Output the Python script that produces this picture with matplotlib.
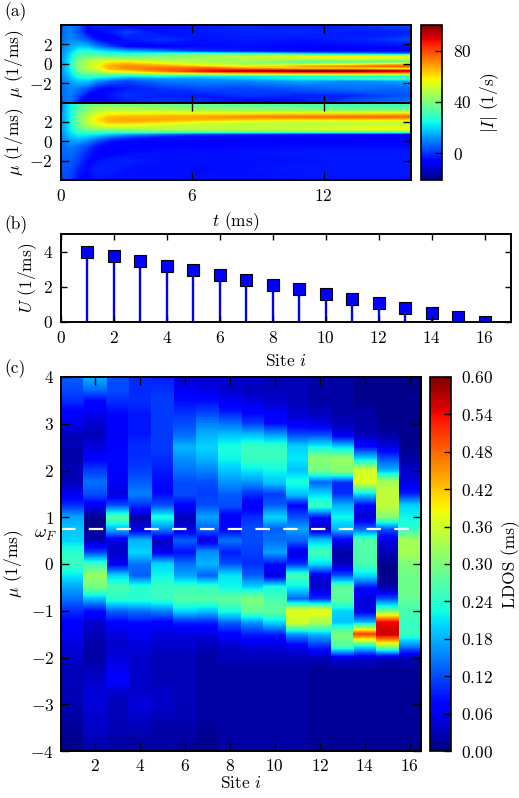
import numpy as np
import matplotlib
matplotlib.use("Agg")
import matplotlib.pyplot as plt
from matplotlib.cm import ScalarMappable
from matplotlib.colors import Normalize

plt.rcParams["font.family"] = "serif"
plt.rcParams["font.serif"] = ["cmr10", "DejaVu Serif"]
plt.rcParams["mathtext.fontset"] = "cm"
plt.rcParams["axes.formatter.use_mathtext"] = True
plt.rcParams["font.size"] = 12.5

W, H = 519, 798

# Panel (a): current |I| against time and mu
t_a = [0, 0.4, 0.8, 1.2, 1.6, 2.2, 3, 4.5, 6.5, 8.5, 11, 13.5, 16]

mu_top = [4, 3.25, 2.5, 1.75, 1.25, 1, 0.75, 0.5, 0.25, 0, -0.25, -0.5, -0.75,
          -1, -1.25, -1.5, -1.75, -2.5, -3.25, -4]
I_top = [
    [6, 6, 7, 8, 9, 10, 10, 11, 11, 11, 11, 11, 10, 10, 9, 8, 8, 7, 6, 6],
    [10, 9, 10, 14, 17, 19, 20, 21, 22, 22, 22, 21, 20, 19, 17, 15, 13, 10, 9, 9],
    [6, 3, 8, 18, 26, 30, 33, 36, 39, 41, 41, 40, 36, 31, 27, 22, 18, 8, 2, -5],
    [-4, -6, 3, 16, 28, 32, 36, 41, 46, 48, 48, 46, 42, 35, 30, 24, 18, 4, -6, -9],
    [0, -9, -4, 10, 24, 31, 37, 44, 50, 54, 54, 51, 45, 37, 28, 20, 12, -3, -8, -5],
    [-2, -4, -10, 3, 20, 28, 36, 45, 54, 62, 66, 64, 54, 40, 26, 16, 6, -6, -4, -6],
    [-6, 2, -4, -6, 16, 26, 34, 44, 55, 65, 71, 70, 58, 40, 22, 10, 2, -3, 0, -3],
    [-4, -5, 0, -8, 10, 30, 38, 44, 50, 58, 68, 76, 70, 48, 25, 12, 8, 0, -2, 0],
    [-2, -3, -4, -5, 0, 36, 42, 46, 46, 50, 60, 78, 86, 52, 22, 12, 10, 3, -3, -1],
    [0, -2, -3, -5, -3, 30, 50, 47, 44, 44, 52, 70, 92, 58, 22, 18, 10, 2, 0, -8],
    [-3, -1, -4, -6, -5, 20, 57, 45, 30, 40, 66, 60, 97, 60, 24, 25, 14, 5, -2, -5],
    [0, -3, -2, -6, -6, 15, 58, 52, 28, 45, 72, 57, 96, 62, 22, 30, 10, 8, -1, 4],
    [3, -2, 2, -5, -7, 10, 56, 52, 22, 58, 78, 52, 88, 62, 20, 32, 14, 6, 4, 8],
]

mu_bot = [4, 3.5, 3.25, 3, 2.75, 2.5, 2.25, 2, 1.75, 1.5, 1.25, 1, 0.75, 0.5, 0,
          -0.5, -1.25, -2, -3, -4]
I_bot = [
    [10, 10, 10, 10, 10, 10, 11, 11, 11, 11, 11, 10, 10, 9, 8, 7, 6, 5, 4, 3],
    [22, 22, 22, 22, 22, 22, 22, 22, 22, 22, 21, 20, 18, 16, 12, 9, 7, 5, 3, 2],
    [30, 32, 33, 35, 37, 38, 38, 38, 37, 35, 32, 28, 24, 20, 13, 6, 3, 1, -3, -6],
    [36, 38, 40, 43, 46, 47, 49, 49, 47, 43, 38, 30, 24, 18, 9, 2, -2, -5, -5, -6],
    [38, 42, 46, 49, 53, 56, 58, 57, 53, 47, 40, 30, 22, 14, 3, -4, -6, -5, -2, -4],
    [38, 42, 48, 53, 58, 63, 66, 64, 57, 50, 40, 30, 18, 8, -4, -6, -7, -3, -2, -5],
    [38, 42, 48, 53, 59, 65, 68, 65, 57, 50, 42, 32, 14, 2, -6, -7, -5, -2, -4, -4],
    [37, 41, 46, 52, 60, 66, 67, 61, 54, 50, 46, 34, 8, -3, -6, -6, -4, -4, -4, -4],
    [35, 38, 44, 50, 60, 68, 65, 55, 50, 50, 48, 34, 2, -5, -6, -6, -4, -4, -5, -4],
    [34, 37, 42, 50, 62, 71, 62, 52, 48, 50, 50, 34, 0, -6, -6, -5, -4, -4, -4, -4],
    [32, 35, 40, 50, 64, 73, 60, 50, 48, 50, 52, 34, -2, -7, -6, -5, -3, -4, -3, -4],
    [30, 33, 38, 48, 64, 74, 60, 50, 50, 52, 55, 34, -4, -7, -6, -5, -3, -3, -3, -4],
    [28, 32, 38, 48, 66, 75, 60, 50, 48, 54, 58, 34, -6, -8, -6, -5, -3, -3, -3, -4],
]

# Panel (b): U per site
sites = list(range(1, 17))
U = [4.0, 3.73, 3.47, 3.2, 2.93, 2.67, 2.4, 2.13, 1.87, 1.6, 1.33, 1.07, 0.8, 0.53, 0.27, 0.0]

# Panel (c): LDOS, one list per site, mu going from 4 down to -4 in steps of 0.25
mu_c = [4, 3.75, 3.5, 3.25, 3, 2.75, 2.5, 2.25, 2, 1.75, 1.5, 1.25, 1, 0.75, 0.5, 0.25, 0,
        -0.25, -0.5, -0.75, -1, -1.25, -1.5, -1.75, -2, -2.25, -2.5, -2.75, -3, -3.25, -3.5, -3.75, -4]
ldos = [
    [.13, .12, .10, .07, .06, .03, .025, .02, .03, .03, .06, .10, .17, .19, .20, .24, .25,
     .21, .17, .14, .10, .07, .06, .05, .04, .03, .03, .03, .025, .02, .015, .01, .01],
    [.18, .14, .08, .06, .04, .03, .05, .07, .11, .14, .12, .06, .01, .01, .03, .11, .25,
     .32, .29, .18, .08, .04, .03, .02, .02, .03, .04, .05, .05, .04, .04, .03, .02],
    [.12, .12, .10, .08, .07, .06, .07, .08, .08, .06, .05, .12, .27, .18, .05, .04, .06,
     .20, .26, .24, .13, .07, .05, .04, .05, .06, .07, .04, .03, .03, .03, .02, .02],
    [.10, .10, .10, .09, .09, .09, .10, .10, .11, .13, .15, .10, .02, .05, .18, .20, .14,
     .13, .24, .24, .14, .08, .06, .05, .04, .04, .04, .04, .05, .04, .03, .02, .02],
    [.09, .10, .11, .11, .11, .11, .11, .10, .09, .08, .08, .12, .23, .15, .03, .06, .20,
     .22, .25, .25, .15, .07, .05, .04, .03, .03, .03, .04, .04, .03, .02, .02, .02],
    [.04, .06, .08, .10, .12, .14, .18, .16, .14, .12, .12, .07, .03, .05, .13, .08, .14,
     .17, .25, .27, .20, .09, .05, .04, .03, .03, .03, .03, .03, .03, .02, .02, .01],
    [.05, .05, .08, .11, .15, .18, .20, .18, .15, .12, .11, .12, .17, .13, .05, .16, .18,
     .13, .25, .27, .19, .09, .05, .03, .02, .02, .02, .02, .02, .02, .015, .01, .01],
    [.05, .04, .06, .09, .14, .19, .23, .22, .19, .16, .13, .12, .06, .07, .14, .09, .12,
     .21, .22, .28, .23, .13, .07, .04, .03, .02, .02, .02, .02, .02, .02, .02, .02],
    [.04, .03, .05, .07, .11, .19, .25, .25, .21, .16, .10, .06, .10, .12, .12, .11, .10,
     .13, .20, .30, .28, .16, .09, .05, .03, .02, .02, .02, .02, .02, .02, .02, .02],
    [.03, .03, .04, .06, .08, .17, .25, .25, .22, .19, .11, .13, .20, .13, .14, .17, .08,
     .05, .23, .26, .28, .20, .09, .05, .03, .02, .02, .02, .02, .02, .02, .02, .02],
    [.03, .03, .03, .04, .06, .12, .20, .21, .19, .23, .19, .07, .12, .17, .13, .05, .10,
     .26, .21, .13, .37, .36, .16, .06, .03, .02, .02, .02, .02, .02, .02, .02, .02],
    [.02, .02, .02, .03, .05, .12, .22, .31, .29, .13, .20, .25, .08, .03, .19, .26, .20,
     .05, .04, .10, .38, .33, .18, .10, .03, .015, .015, .015, .015, .015, .015, .015, .015],
    [.02, .02, .02, .02, .03, .06, .20, .32, .31, .10, .10, .18, .22, .18, .06, .02, .03,
     .12, .28, .28, .20, .19, .30, .27, .05, .015, .015, .015, .015, .015, .015, .015, .015],
    [.01, .01, .01, .02, .02, .03, .08, .20, .36, .37, .20, .07, .04, .13, .27, .27, .26,
     .20, .08, .05, .05, .18, .50, .22, .04, .015, .015, .015, .015, .015, .015, .015, .015],
    [.01, .01, .01, .01, .01, .02, .05, .12, .18, .33, .35, .35, .30, .12, .05, .03, .01,
     .01, .02, .12, .28, .54, .56, .32, .03, .015, .015, .015, .015, .015, .015, .015, .015],
    [.01, .01, .01, .01, .01, .01, .01, .02, .04, .05, .09, .20, .22, .24, .33, .33, .30,
     .29, .29, .28, .26, .25, .25, .15, .03, .015, .015, .015, .015, .015, .015, .015, .015],
]
fermi = 0.75


def add_axes(x0, y0, x1, y1):
    # pixel box measured from the top left of the picture
    return fig.add_axes([x0 / W, 1 - y1 / H, (x1 - x0) / W, (y1 - y0) / H])


def style(ax, lw=1.4, length=5.5, pad=6):
    for s in ax.spines.values():
        s.set_linewidth(lw)
    ax.tick_params(direction="in", top=True, right=True, length=length, width=1.0, pad=pad)
    ax.set_axisbelow(False)


fig = plt.figure(figsize=(W / 100, H / 100), dpi=100)

# contourf with many levels keeps the colours of jet between the read values
norm_a = Normalize(-21, 100)
levels_a = np.linspace(-21, 100, 243)
norm_c = Normalize(0, 0.6)
levels_c = np.linspace(0, 0.6, 241)

# (a)
ax1 = add_axes(61, 25, 411, 102.5)
ax2 = add_axes(61, 102.5, 411, 180)
for ax, mu, vals in [(ax1, mu_top, I_top), (ax2, mu_bot, I_bot)]:
    z = np.array(vals).T
    ax.contourf(t_a, mu, z, levels=levels_a, cmap="jet", norm=norm_a, extend="both")
    ax.set_xlim(0, 16)
    ax.set_ylim(-4, 4)
    ax.set_yticks([-2, 0, 2])
    ax.set_yticklabels(["$-2$", "$0$", "$2$"])
    ax.set_xticks([0, 6, 12])
    style(ax)
    ax.set_ylabel(r"$\mu$ (1/ms)")
    ax.yaxis.set_label_coords(-0.1, 0.5)
ax1.tick_params(labelbottom=False)
ax2.set_xticklabels(["$0$", "$6$", "$12$"])
ax2.set_xlabel(r"$t$ (ms)", labelpad=4)

cax1 = add_axes(421, 25, 442, 180)
cb1 = fig.colorbar(ScalarMappable(norm_a, "jet"), cax=cax1)
cb1.set_ticks([0, 40, 80])
cb1.set_ticklabels(["$0$", "$40$", "$80$"])
cb1.ax.tick_params(direction="in", length=5, width=1.0, pad=8)
cb1.outline.set_linewidth(1.2)
cb1.set_label(r"$|I|$ (1/s)", labelpad=5)

# (b)
ax3 = add_axes(61, 234, 511, 322)
ax3.vlines(sites, 0, U, color="#0000ff", lw=1.7, zorder=2)
ax3.plot(sites, U, "s", color="#0000ff", mec="black", mew=0.8, ms=9, zorder=2)
ax3.set_xlim(0, 17)
ax3.set_ylim(0, 5)
ax3.set_xticks(range(0, 17, 2))
ax3.set_xticklabels([f"${v}$" for v in range(0, 17, 2)])
ax3.set_yticks([0, 2, 4])
ax3.set_yticklabels(["$0$", "$2$", "$4$"])
style(ax3, length=4)
ax3.set_xlabel(r"Site $i$", labelpad=5)
ax3.set_ylabel(r"$U$ (1/ms)")
ax3.yaxis.set_label_coords(-0.049, 0.5)

# (c)
ax4 = add_axes(61, 377, 421, 751)
edges = np.arange(0.5, 17.0)
x_c = np.repeat(edges, 2)[1:-1]
x_c[1::2] += 0.001
z_c = np.repeat(np.array(ldos).T, 2, axis=1)
ax4.contourf(x_c, mu_c, z_c, levels=levels_c, cmap="jet", norm=norm_c, extend="both")
ax4.axhline(fermi, color="white", lw=1.6, dashes=(6.5, 6.0))
ax4.set_xlim(0.5, 16.5)
ax4.set_ylim(-4, 4)
ax4.set_xticks(range(2, 17, 2))
ax4.set_xticklabels([f"${v}$" for v in range(2, 17, 2)])
ax4.set_yticks(range(-4, 5))
ax4.set_yticklabels([f"${v}$" for v in range(-4, 5)])
style(ax4, pad=5)
ax4.set_xlabel(r"Site $i$", labelpad=1)
ax4.set_ylabel(r"$\mu$ (1/ms)")
ax4.yaxis.set_label_coords(-0.1, 0.5)
ax4.text(-0.012, fermi - 0.14, r"$\omega_F$", transform=ax4.get_yaxis_transform(),
         ha="right", va="center", fontsize=13)

cax2 = add_axes(430, 377, 451, 751)
cb2 = fig.colorbar(ScalarMappable(norm_c, "jet"), cax=cax2)
cb_ticks = [0.0, 0.06, 0.12, 0.18, 0.24, 0.30, 0.36, 0.42, 0.48, 0.54, 0.60]
cb2.set_ticks(cb_ticks)
cb2.set_ticklabels([f"${v:.2f}$" for v in cb_ticks])
cb2.ax.tick_params(direction="in", length=5, width=1.0, pad=7)
cb2.outline.set_linewidth(1.2)
cb2.set_label("LDOS (ms)", labelpad=6)

for lab, y in [("(a)", 12), ("(b)", 225), ("(c)", 369)]:
    fig.text(4 / W, 1 - y / H, lab, va="center", ha="left")

fig.savefig("out.png", dpi=100)
